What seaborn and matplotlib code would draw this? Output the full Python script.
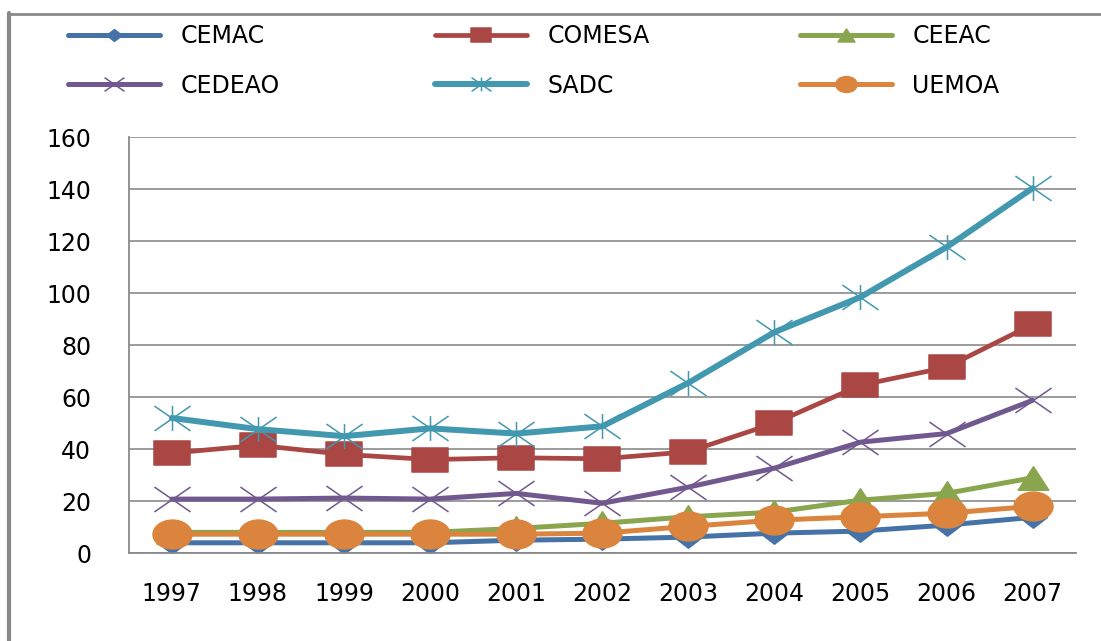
"""
Trade values by African regional community, 1997-2007 (Excel-style line chart)
"""

import matplotlib
matplotlib.use("Agg")
import matplotlib.pyplot as plt
import seaborn as sns
import pandas as pd
from matplotlib.path import Path
from matplotlib.transforms import Affine2D
from matplotlib.lines import Line2D

sns.set_style("white")
plt.rcParams['font.family'] = ['DejaVu Sans']
plt.rcParams['text.color'] = 'black'

# ---- data ----
years = [1997, 1998, 1999, 2000, 2001, 2002, 2003, 2004, 2005, 2006, 2007]
cemac = [4, 4, 4, 4, 5, 5.4, 6.2, 7.7, 8.5, 10.8, 13.8]
comesa = [38.5, 41.5, 38, 36, 36.7, 36.3, 39, 50, 64.6, 71.5, 88]
ceeac = [8, 8, 8, 8, 9.5, 11.5, 14, 15.8, 20.4, 23, 29]
cedeao = [20.8, 20.8, 21.2, 20.8, 23, 19.2, 25.4, 32.7, 42.7, 46, 58.8]
sadc = [52, 47.7, 45, 48, 46, 48.8, 65.5, 85, 98.5, 117.7, 140.4]
uemoa = [7.3, 7.3, 7.3, 7.3, 7.3, 7.7, 10.3, 12.7, 14, 15.4, 18]
y_ticks = [0, 20, 40, 60, 80, 100, 120, 140, 160]

series_names = ['CEMAC', 'COMESA', 'CEEAC', 'CEDEAO', 'SADC', 'UEMOA']
series_values = [cemac, comesa, ceeac, cedeao, sadc, uemoa]

COLORS = {
    'CEMAC': '#4572A7',
    'COMESA': '#AA4643',
    'CEEAC': '#89A54E',
    'CEDEAO': '#71588F',
    'SADC': '#4198AF',
    'UEMOA': '#DB843D',
}

# markers are a bit wider than tall, like the source picture
SX = 1.45
square = Path([(-SX, -1), (SX, -1), (SX, 1), (-SX, 1), (-SX, -1)], closed=True)
diamond = Path([(-1.3, 0), (0, -1), (1.3, 0), (0, 1), (-1.3, 0)], closed=True)
triangle = Path([(-1.3, -1), (1.3, -1), (0, 1), (-1.3, -1)], closed=True)
ellipse = Path.unit_circle().transformed(Affine2D().scale(1.35, 1))
xmark = Path([(-SX, -1), (SX, 1), (-SX, 1), (SX, -1)],
             [Path.MOVETO, Path.LINETO, Path.MOVETO, Path.LINETO])
star = Path([(-SX, -1), (SX, 1), (-SX, 1), (SX, -1), (0, -1), (0, 1)],
            [Path.MOVETO, Path.LINETO, Path.MOVETO, Path.LINETO,
             Path.MOVETO, Path.LINETO])

MARKERS = {
    'CEMAC': (diamond, 20, 3.6),
    'COMESA': (square, 26, 3.4),
    'CEEAC': (triangle, 22, 3.6),
    'CEDEAO': (xmark, 26, 3.6),
    'SADC': (star, 26, 4.3),
    'UEMOA': (ellipse, 28, 3.6),
}

FS = 17

fig = plt.figure(figsize=(11.01, 6.41), dpi=100)
ax = fig.add_axes([0.117, 0.137, 0.860, 0.649])

for name, vals in zip(series_names, series_values):
    df = pd.DataFrame({'year': years, 'value': vals})
    mk, ms, lw = MARKERS[name]
    sns.lineplot(data=df, x='year', y='value', ax=ax,
                 color=COLORS[name], linewidth=lw, label=name,
                 marker=mk, markersize=ms,
                 markerfacecolor=COLORS[name], markeredgecolor=COLORS[name],
                 markeredgewidth=1.1, legend=False)

ax.set_xlim(1996.5, 2007.5)
ax.set_ylim(0, 160)
ax.set_xticks(years)
ax.set_xticklabels([str(y) for y in years])
ax.set_yticks(y_ticks)
ax.set_xlabel('')
ax.set_ylabel('')
ax.tick_params(axis='both', length=0, labelsize=FS, colors='black')
ax.tick_params(axis='y', pad=27)
ax.tick_params(axis='x', pad=21)
ax.grid(axis='y', color='#8a8a8a', linewidth=1.2)
ax.set_axisbelow(True)
for side in ['top', 'right']:
    ax.spines[side].set_visible(False)
for side in ['left', 'bottom']:
    ax.spines[side].set_color('#8a8a8a')
    ax.spines[side].set_linewidth(1.3)

if ax.get_legend() is not None:
    ax.get_legend().remove()

# legend: three columns, two rows each, above the plot
handles, labels = ax.get_legend_handles_labels()
lookup = dict(zip(labels, handles))
columns = [('CEMAC', 'CEDEAO'), ('COMESA', 'SADC'), ('CEEAC', 'UEMOA')]
col_x = [68, 435, 800]
for cx, names in zip(col_x, columns):
    fig.legend([lookup[n] for n in names], list(names),
               loc='upper left', bbox_to_anchor=(cx / 1101, 0.9625),
               frameon=False, fontsize=FS, borderpad=0, borderaxespad=0,
               handlelength=3.9, handletextpad=0.85, labelspacing=1.08,
               markerscale=0.55, labelcolor='black')

# outer chart frame (partly cut off, as in the source)
fig.add_artist(Line2D([9 / 1101, 9 / 1101], [0, 1 - 13 / 641],
                      transform=fig.transFigure, color='#8a8a8a', linewidth=3))
fig.add_artist(Line2D([9 / 1101, 1], [1 - 13.5 / 641, 1 - 13.5 / 641],
                      transform=fig.transFigure, color='#8a8a8a', linewidth=2))

fig.savefig('out.png', dpi=100, facecolor='white')
